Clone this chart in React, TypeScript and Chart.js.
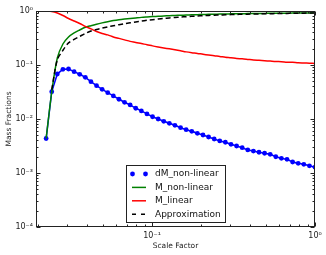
import React, { useEffect, useRef } from "react";
import { Chart, registerables } from "chart.js";

Chart.register(...registerables);

// Scale factor grid (x values)
const scaleFactor = [
  0.02239, 0.02423, 0.02622, 0.02838, 0.03072, 0.03324, 0.03598, 0.03895, 0.04217, 0.04564,
  0.04939, 0.05346, 0.05788, 0.06264, 0.0678, 0.07339, 0.07943, 0.08598, 0.09306, 0.1007,
  0.109, 0.118, 0.1277, 0.1382, 0.1496, 0.1619, 0.1753, 0.1897, 0.2054, 0.2223,
  0.2406, 0.2604, 0.2818, 0.3051, 0.3302, 0.3574, 0.3868, 0.4187, 0.4532, 0.4905,
  0.5309, 0.5746, 0.622, 0.6732, 0.7286, 0.7886, 0.8536, 0.9239, 1.0,
];

const dMNonLinear = [
  0.00435, 0.0321, 0.0681, 0.0832, 0.0843, 0.0752, 0.0673, 0.0592, 0.0491, 0.0414,
  0.0355, 0.0307, 0.0267, 0.0232, 0.0204, 0.0182, 0.0158, 0.0141, 0.0124, 0.011,
  0.01, 0.00906, 0.00832, 0.00764, 0.0069, 0.00634, 0.00592, 0.00543, 0.00506, 0.00464,
  0.00426, 0.00392, 0.00371, 0.0034, 0.00316, 0.00294, 0.00267, 0.00255, 0.00242, 0.00232,
  0.00222, 0.002, 0.00187, 0.00179, 0.0016, 0.00151, 0.00145, 0.00136, 0.00128,
];

const mNonLinear = [
  0.00435, 0.0316, 0.135, 0.245, 0.33, 0.392, 0.445, 0.499, 0.535, 0.57,
  0.603, 0.635, 0.665, 0.69, 0.71, 0.728, 0.745, 0.762, 0.775, 0.787,
  0.798, 0.808, 0.817, 0.826, 0.834, 0.841, 0.848, 0.855, 0.861, 0.867,
  0.872, 0.877, 0.881, 0.885, 0.889, 0.892, 0.895, 0.898, 0.901, 0.903,
  0.906, 0.908, 0.91, 0.912, 0.914, 0.916, 0.917, 0.918, 0.919,
];

const mLinear = [
  1.0, 0.979, 0.918, 0.826, 0.727, 0.654, 0.588, 0.518, 0.466, 0.418,
  0.384, 0.361, 0.331, 0.311, 0.292, 0.274, 0.262, 0.249, 0.238, 0.226,
  0.216, 0.207, 0.199, 0.191, 0.183, 0.175, 0.169, 0.164, 0.158, 0.153,
  0.148, 0.144, 0.139, 0.136, 0.132, 0.13, 0.127, 0.124, 0.122, 0.12,
  0.118, 0.116, 0.115, 0.113, 0.112, 0.11, 0.109, 0.108, 0.107,
];

const approximation = [
  null, 0.035, 0.125, 0.187, 0.257, 0.298, 0.339, 0.385, 0.425, 0.455,
  0.482, 0.508, 0.533, 0.558, 0.582, 0.605, 0.628, 0.65, 0.672, 0.692,
  0.711, 0.728, 0.743, 0.758, 0.772, 0.785, 0.797, 0.808, 0.818, 0.827,
  0.836, 0.843, 0.85, 0.857, 0.863, 0.869, 0.874, 0.879, 0.884, 0.888,
  0.892, 0.896, 0.9, 0.903, 0.907, 0.91, 0.913, 0.916, 0.919,
];

const seriesLabels = ["dM_non-linear", "M_non-linear", "M_linear", "Approximation"];
const seriesColors = ["#0000ff", "#008000", "#ff0000", "#000000"];

const xTickValues = [0.1, 1];
const xTickLabels = ["10\u207B\u00B9", "10\u2070"];
const yTickValues = [0.0001, 0.001, 0.01, 0.1, 1];
const yTickLabels = ["10\u207B\u2074", "10\u207B\u00B3", "10\u207B\u00B2", "10\u207B\u00B9", "10\u2070"];

const xMin = 0.0194;
const xMax = 1;
const yMin = 0.0001;
const yMax = 1;

const FONT = "'DejaVu Sans', sans-serif";

const toPoints = (vals: (number | null)[]) =>
  scaleFactor.map((a, i) => ({ x: a, y: vals[i] }));

const frameTicksPlugin = {
  id: "frameTicks",
  afterDatasetsDraw(chart: any) {
    const { ctx, chartArea } = chart;
    const { left, right, top, bottom } = chartArea;
    const xs = chart.scales.x;
    const ys = chart.scales.y;
    const L = Math.round(left) + 0.5;
    const R = Math.round(right) - 0.5;
    const T = Math.round(top) + 0.5;
    const B = Math.round(bottom) - 0.5;
    ctx.save();
    ctx.strokeStyle = "#222";
    ctx.lineWidth = 1;
    ctx.strokeRect(L, T, R - L, B - T);

    const drawX = (v: number, len: number) => {
      const px = Math.round(xs.getPixelForValue(v)) + 0.5;
      if (px < L - 0.1 || px > R + 1) return;
      ctx.beginPath();
      ctx.moveTo(px, B);
      ctx.lineTo(px, B - len);
      ctx.moveTo(px, T);
      ctx.lineTo(px, T + len);
      ctx.stroke();
    };
    const drawY = (v: number, len: number) => {
      const py = Math.round(ys.getPixelForValue(v)) + 0.5;
      if (py < T - 1 || py > B + 1) return;
      ctx.beginPath();
      ctx.moveTo(L, py);
      ctx.lineTo(L + len, py);
      ctx.moveTo(R, py);
      ctx.lineTo(R - len, py);
      ctx.stroke();
    };
    for (let d = -2; d <= 0; d++) {
      const base = Math.pow(10, d);
      if (base >= xMin && base <= xMax) drawX(base, 4);
      for (let m = 2; m <= 9; m++) {
        const v = m * base;
        if (v >= xMin && v <= xMax) drawX(v, 2);
      }
    }
    for (let d = -4; d <= 0; d++) {
      const base = Math.pow(10, d);
      drawY(base, 4);
      if (d < 0) for (let m = 2; m <= 9; m++) drawY(m * base, 2);
    }
    ctx.restore();
  },
};

const legendPlugin = {
  id: "customLegend",
  afterDraw(chart: any) {
    const { ctx } = chart;
    const bx = 126.5;
    const by = 165.5;
    const bw = 99;
    const bh = 57;
    ctx.save();
    ctx.fillStyle = "#ffffff";
    ctx.fillRect(bx, by, bw, bh);
    ctx.strokeStyle = "#222";
    ctx.lineWidth = 1;
    ctx.strokeRect(bx, by, bw, bh);
    const rows = [174, 187.4, 200.8, 214.2];
    const hx0 = 132.5;
    const hx1 = 146;
    chart.data.datasets.forEach((ds: any, i: number) => {
      const yy = rows[i];
      if (i === 0) {
        ctx.fillStyle = ds.backgroundColor;
        [hx0, hx1 - 0.5].forEach((cx) => {
          ctx.beginPath();
          ctx.arc(cx, yy, 2.4, 0, Math.PI * 2);
          ctx.fill();
        });
      } else {
        ctx.strokeStyle = ds.borderColor;
        ctx.lineWidth = 1.5;
        ctx.setLineDash(i === 3 ? [4, 5] : []);
        ctx.beginPath();
        ctx.moveTo(hx0 - 0.5, yy);
        ctx.lineTo(hx1, yy);
        ctx.stroke();
        ctx.setLineDash([]);
      }
      ctx.fillStyle = "#111";
      ctx.font = "9px " + FONT;
      ctx.textBaseline = "middle";
      ctx.textAlign = "left";
      ctx.fillText(ds.label, 155, yy);
    });
    ctx.restore();
  },
};

export default function App() {
  const canvasRef = useRef<HTMLCanvasElement | null>(null);

  useEffect(() => {
    if (!canvasRef.current) return;
    Chart.defaults.font.family = FONT;
    const chart = new Chart(canvasRef.current, {
      type: "line",
      data: {
        datasets: [
          {
            label: seriesLabels[0],
            data: toPoints(dMNonLinear),
            borderColor: seriesColors[0],
            backgroundColor: seriesColors[0],
            borderWidth: 1.5,
            pointRadius: 2.4,
            pointBorderWidth: 0,
            pointBackgroundColor: seriesColors[0],
            tension: 0,
            order: 4,
          },
          {
            label: seriesLabels[1],
            data: toPoints(mNonLinear),
            borderColor: seriesColors[1],
            backgroundColor: seriesColors[1],
            borderWidth: 1.5,
            pointRadius: 0,
            tension: 0.3,
            order: 3,
          },
          {
            label: seriesLabels[2],
            data: toPoints(mLinear),
            borderColor: seriesColors[2],
            backgroundColor: seriesColors[2],
            borderWidth: 1.5,
            pointRadius: 0,
            tension: 0.3,
            order: 2,
          },
          {
            label: seriesLabels[3],
            data: toPoints(approximation),
            borderColor: seriesColors[3],
            backgroundColor: seriesColors[3],
            borderWidth: 1.5,
            borderDash: [5, 3],
            pointRadius: 0,
            tension: 0.3,
            order: 1,
          },
        ],
      } as any,
      options: {
        responsive: false,
        animation: false,
        devicePixelRatio: 1,
        layout: { padding: { left: 0, right: 11, top: 11, bottom: 0 } },
        plugins: {
          legend: { display: false },
          tooltip: { enabled: false },
        },
        scales: {
          x: {
            type: "logarithmic",
            min: xMin,
            max: xMax,
            grid: { display: false, drawTicks: false },
            border: { display: false },
            afterBuildTicks: (scale: any) => {
              scale.ticks = xTickValues.map((v) => ({ value: v }));
            },
            afterFit: (scale: any) => {
              scale.height = 28;
            },
            ticks: {
              autoSkip: false,
              maxRotation: 0,
              padding: 4,
              color: "#222",
              font: { size: 8, family: FONT },
              callback: (v: any) => {
                const i = xTickValues.findIndex((t) => Math.abs(t - Number(v)) < 1e-9);
                return i >= 0 ? xTickLabels[i] : "";
              },
            },
            title: {
              display: true,
              text: "Scale Factor",
              color: "#222",
              font: { size: 7.5, family: FONT },
              padding: { top: 0, bottom: 4 },
            },
          },
          y: {
            type: "logarithmic",
            min: yMin,
            max: yMax,
            grid: { display: false, drawTicks: false },
            border: { display: false },
            afterBuildTicks: (scale: any) => {
              scale.ticks = yTickValues.map((v) => ({ value: v }));
            },
            afterFit: (scale: any) => {
              scale.width = 36;
            },
            ticks: {
              autoSkip: false,
              padding: 3,
              color: "#222",
              font: { size: 8, family: FONT },
              callback: (v: any) => {
                const i = yTickValues.findIndex((t) => Math.abs(t - Number(v)) / t < 1e-6);
                return i >= 0 ? yTickLabels[i] : "";
              },
            },
            title: {
              display: true,
              text: "Mass Fractions",
              color: "#222",
              font: { size: 7.5, family: FONT },
              padding: { top: 5, bottom: 0 },
            },
          },
        },
      } as any,
      plugins: [frameTicksPlugin, legendPlugin],
    });
    return () => chart.destroy();
  }, []);

  return (
    <div style={{ position: "absolute", left: 0, top: 0, width: 326, height: 255, background: "#fff" }}>
      <canvas ref={canvasRef} width={326} height={255} style={{ width: 326, height: 255, display: "block" }} />
    </div>
  );
}
